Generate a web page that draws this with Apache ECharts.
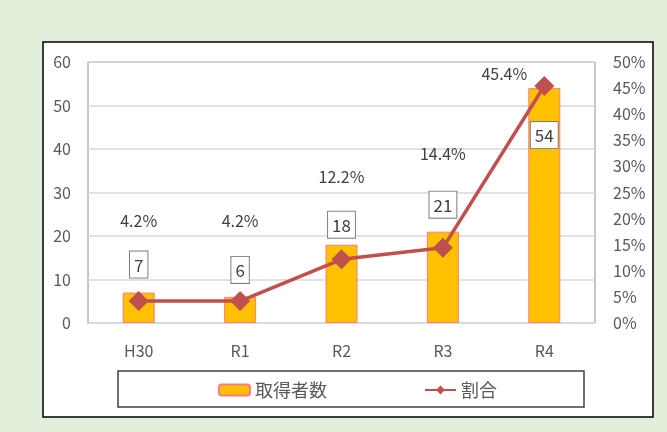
<!DOCTYPE html>
<html>
<head>
<meta charset="utf-8">
<script src="https://cdn.jsdelivr.net/npm/echarts@6/dist/echarts.min.js"></script>
<style>
  html, body { margin: 0; padding: 0; background: #e2efda; }
  #chart { width: 667px; height: 432px; }
</style>
</head>
<body>
<div id="chart"></div>
<script>
// data
const years = ['H30', 'R1', 'R2', 'R3', 'R4']
const holders = [7, 6, 18, 21, 54]
const ratio = [4.2, 4.2, 12.2, 14.4, 45.4]
const countTicks = [0, 10, 20, 30, 40, 50, 60]
const ratioTicks = [0, 5, 10, 15, 20, 25, 30, 35, 40, 45, 50]

const font = '"Noto Sans CJK JP", "Noto Sans", sans-serif'
const textColor = '#595959'

// label placement tweaks, as in the original sheet
const barLabelPos = [
  { position: 'top', distance: 15 },
  { position: 'top', distance: 14 },
  { position: 'top', distance: 7 },
  { position: 'top', distance: 14 },
  { position: 'insideTop', distance: 34 }
]
const lineLabelOffset = [[0, -57], [0, -57], [0, -59], [0, -71], [-40, 11]]

const chart = echarts.init(document.getElementById('chart'))
chart.setOption({
  backgroundColor: '#e2efda',
  textStyle: { fontFamily: font },
  animation: false,
  graphic: [
    {
      type: 'rect',
      z: -10,
      shape: { x: 43, y: 42, width: 610, height: 375 },
      style: { fill: '#ffffff', stroke: '#000000', lineWidth: 1.5 }
    },
    {
      type: 'rect',
      z: -5,
      shape: { x: 118, y: 371, width: 466, height: 36 },
      style: { fill: '#ffffff', stroke: '#404040', lineWidth: 1.5 }
    }
  ],
  grid: {
    left: 88,
    top: 62,
    right: 72,
    bottom: 109,
    show: true,
    borderColor: '#8c8c8c',
    borderWidth: 1
  },
  legend: {
    left: 213,
    top: 376,
    itemGap: 97,
    itemWidth: 31,
    itemHeight: 11,
    textStyle: { fontSize: 18, color: textColor, fontFamily: font },
    data: [
      { name: '取得者数' },
      { name: '割合' }
    ]
  },
  xAxis: {
    type: 'category',
    data: years,
    axisLine: { lineStyle: { color: '#d9d9d9', width: 2 } },
    axisTick: { show: false },
    axisLabel: { fontSize: 16, color: textColor, margin: 20 }
  },
  yAxis: [
    {
      type: 'value',
      min: countTicks[0],
      max: countTicks[countTicks.length - 1],
      interval: 10,
      axisLine: { show: false },
      axisTick: { show: false },
      axisLabel: { fontSize: 16, color: textColor, margin: 17 },
      splitLine: { lineStyle: { color: '#d9d9d9', width: 1.5 } }
    },
    {
      type: 'value',
      min: ratioTicks[0],
      max: ratioTicks[ratioTicks.length - 1],
      interval: 5,
      axisLine: { show: false },
      axisTick: { show: false },
      axisLabel: { fontSize: 16, color: textColor, margin: 18, formatter: '{value}%' },
      splitLine: { show: false }
    }
  ],
  series: [
    {
      name: '取得者数',
      type: 'bar',
      barWidth: 32,
      itemStyle: { color: '#ffc000', borderColor: '#ff7c80', borderWidth: 1 },
      label: {
        show: true,
        fontSize: 17,
        color: '#404040',
        backgroundColor: '#ffffff',
        borderColor: '#7f7f7f',
        borderWidth: 1,
        padding: [5, 4, 4, 4]
      },
      data: holders.map((v, i) => ({ value: v, label: barLabelPos[i] }))
    },
    {
      name: '割合',
      type: 'line',
      yAxisIndex: 1,
      symbol: 'diamond',
      symbolSize: 20,
      lineStyle: { color: '#c0504d', width: 3.5 },
      itemStyle: { color: '#c0504d' },
      label: {
        show: true,
        position: 'top',
        fontSize: 16,
        color: '#404040',
        formatter: p => p.value.toFixed(1) + '%'
      },
      data: ratio.map((v, i) => ({ value: v, label: { offset: lineLabelOffset[i] } }))
    }
  ]
})
</script>
</body>
</html>
